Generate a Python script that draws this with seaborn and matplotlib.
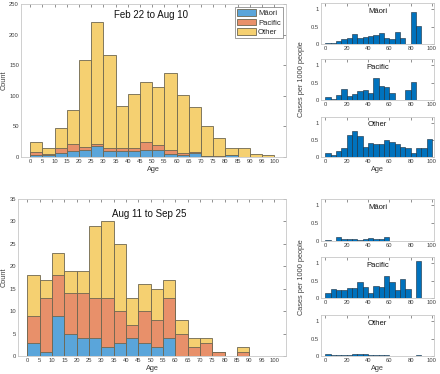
import numpy as np
import pandas as pd
import matplotlib
matplotlib.use("Agg")
import matplotlib.pyplot as plt
import seaborn as sns
from matplotlib.patches import Patch

sns.set_style("white")
plt.rcParams['font.family'] = ['Liberation Sans', 'DejaVu Sans']

bin_left = list(range(0, 100, 5))
groups = ["Māori", "Pacific", "Other"]

# Counts, period 1 (Feb 22 to Aug 10)
p1_maori   = [3, 4, 7, 9, 11, 18, 9, 9, 9, 12, 12, 5, 3, 7, 2, 0, 3, 0, 0, 0]
p1_pacific = [5, 1, 7, 13, 5, 4, 6, 6, 5, 13, 8, 6, 3, 1, 0, 1, 0, 0, 0, 0]
p1_other   = [17, 9, 33, 54, 143, 198, 152, 68, 89, 98, 94, 126, 95, 73, 48, 30, 12, 15, 5, 3]

# Counts, period 2 (Aug 11 to Sep 25)
p2_maori   = [3, 1, 9, 5, 4, 4, 2, 3, 4, 3, 2, 4, 0, 0, 0, 0, 0, 0, 0, 0]
p2_pacific = [6, 12, 9, 9, 10, 9, 11, 7, 3, 7, 6, 9, 5, 2, 3, 1, 0, 1, 0, 0]
p2_other   = [9, 4, 5, 5, 5, 16, 17, 15, 6, 6, 7, 4, 3, 2, 1, 0, 0, 1, 0, 0]

# Cases per 1000 people
r1_maori   = [0.03, 0.04, 0.10, 0.13, 0.17, 0.30, 0.18, 0.19, 0.23, 0.27, 0.31, 0.16, 0.15, 0.35, 0.16, 0, 0.93, 0.52, 0, 0]
r1_pacific = [0.10, 0.04, 0.15, 0.32, 0.12, 0.17, 0.25, 0.28, 0.19, 0.62, 0.39, 0.36, 0.19, 0, 0, 0.28, 0.52, 0, 0, 0]
r1_other   = [0.11, 0.05, 0.18, 0.28, 0.66, 0.77, 0.62, 0.30, 0.40, 0.39, 0.38, 0.50, 0.43, 0.37, 0.30, 0.26, 0.13, 0.28, 0.27, 0.53]
r2_maori   = [0.04, 0.01, 0.11, 0.07, 0.07, 0.07, 0.04, 0.06, 0.09, 0.07, 0.05, 0.10, 0, 0, 0, 0, 0, 0, 0, 0]
r2_pacific = [0.13, 0.26, 0.22, 0.22, 0.28, 0.29, 0.45, 0.32, 0.14, 0.35, 0.33, 0.63, 0.46, 0.24, 0.55, 0.27, 0, 1.07, 0, 0]
r2_other   = [0.05, 0.02, 0.02, 0.02, 0.03, 0.05, 0.06, 0.06, 0.02, 0.02, 0.02, 0.02, 0.01, 0.01, 0.01, 0, 0, 0.02, 0, 0]

titles = ["Feb 22 to Aug 10", "Aug 11 to Sep 25"]

col = {"Māori": "#5AA5DA", "Pacific": "#E8906A", "Other": "#F5D071"}
edge = "#6E6650"
tick_col = "#404040"
spine_col = "#C8C8C8"

fig = plt.figure(figsize=(4.4, 3.74), dpi=100)
W, H = 440, 374

def axpx(l, t, r, b):
    return fig.add_axes([l / W, 1 - b / H, (r - l) / W, (b - t) / H])

def style(ax, fs=4.2):
    ax.tick_params(axis="both", which="both", direction="in", length=2, width=0.4,
                   labelsize=fs, colors=tick_col, top=True, right=True,
                   labelcolor=tick_col, pad=1.5)
    for s in ax.spines.values():
        s.set_color(spine_col)
        s.set_linewidth(0.6)

def stacked(ax, m, p, o, ymax, yticks):
    df = pd.DataFrame({"age": np.array(bin_left * 3, dtype=float) + 2.5,
                       "group": sum([[g] * 20 for g in groups], []),
                       "n": np.array(m + p + o, dtype=float)})
    # draw cumulative layers: total, Māori+Pacific, Māori
    layers = [("Other", groups), ("Pacific", ["Māori", "Pacific"]), ("Māori", ["Māori"])]
    for name, gs in layers:
        sub = df[df.group.isin(gs)].reset_index(drop=True)
        sns.histplot(data=sub, x="age", weights="n", binwidth=5, binrange=(0, 100), ax=ax,
                     color=col[name], alpha=1, edgecolor=edge, linewidth=0.6)
    ax.set_xlim(-3.8, 104.8)
    ax.set_ylim(0, ymax)
    ax.set_xticks(range(0, 101, 5))
    ax.set_yticks(list(yticks))
    ax.set_xlabel("Age", fontsize=5.3, color=tick_col, labelpad=1.5)
    ax.set_ylabel("Count", fontsize=5.3, color=tick_col, labelpad=1)
    style(ax)
    return ax

ax1 = axpx(21, 4, 286, 157)
stacked(ax1, p1_maori, p1_pacific, p1_other, 250, range(0, 251, 50))
ax1.text(0.49, 0.925, titles[0], transform=ax1.transAxes, ha="center", va="center",
         fontsize=7, color="#111111")
handles = [Patch(facecolor=col[g], edgecolor=edge, linewidth=0.6, label=g) for g in groups]
leg = ax1.legend(handles=handles, loc="upper right", fontsize=5.5, frameon=True,
                 fancybox=False, borderpad=0.3, labelspacing=0.15, handlelength=2.4,
                 handleheight=1.0, handletextpad=0.3, borderaxespad=0.4)
leg.get_frame().set_edgecolor("#555555")
leg.get_frame().set_linewidth(0.5)

ax2 = axpx(18, 199, 286, 356)
stacked(ax2, p2_maori, p2_pacific, p2_other, 35, range(0, 36, 5))
ax2.text(0.49, 0.905, titles[1], transform=ax2.transAxes, ha="center", va="center",
         fontsize=7, color="#111111")

def rate_panel(t, b, vals, name, show_xlabel):
    ax = axpx(321, t, 434, b)
    df = pd.DataFrame({"age": np.array(bin_left, dtype=float) + 2.5,
                       "rate": np.array(vals, dtype=float)})
    sns.histplot(data=df, x="age", weights="rate", binwidth=5, binrange=(0, 100), ax=ax,
                 color="#0072BD", alpha=1, edgecolor="#1A2A3A", linewidth=0.4)
    ax.set_xlim(-4, 102)
    ax.set_ylim(0, 1.18)
    ax.set_xticks(range(0, 101, 20))
    ax.set_yticks([0, 0.5, 1])
    ax.set_yticklabels(["0", "0.5", "1"])
    ax.set_ylabel("")
    ax.set_xlabel("Age" if show_xlabel else "", fontsize=5.3, color=tick_col, labelpad=1.5)
    ax.text(0.5, 0.8, name, transform=ax.transAxes, ha="center", va="center",
            fontsize=5.5, color="#111111")
    style(ax)
    return ax

rows_top = [(3, 44), (59, 100), (117, 157)]
rows_bot = [(199, 241), (257, 298), (315, 356)]
for rows, rates in [(rows_top, [r1_maori, r1_pacific, r1_other]),
                    (rows_bot, [r2_maori, r2_pacific, r2_other])]:
    axs = []
    for i, ((t, b), vals, g) in enumerate(zip(rows, rates, groups)):
        axs.append(rate_panel(t, b, vals, g, i == 2))
    axs[1].set_ylabel("Cases per 1000 people", fontsize=5.3, color=tick_col, labelpad=4)

fig.savefig("out.png", dpi=100)
